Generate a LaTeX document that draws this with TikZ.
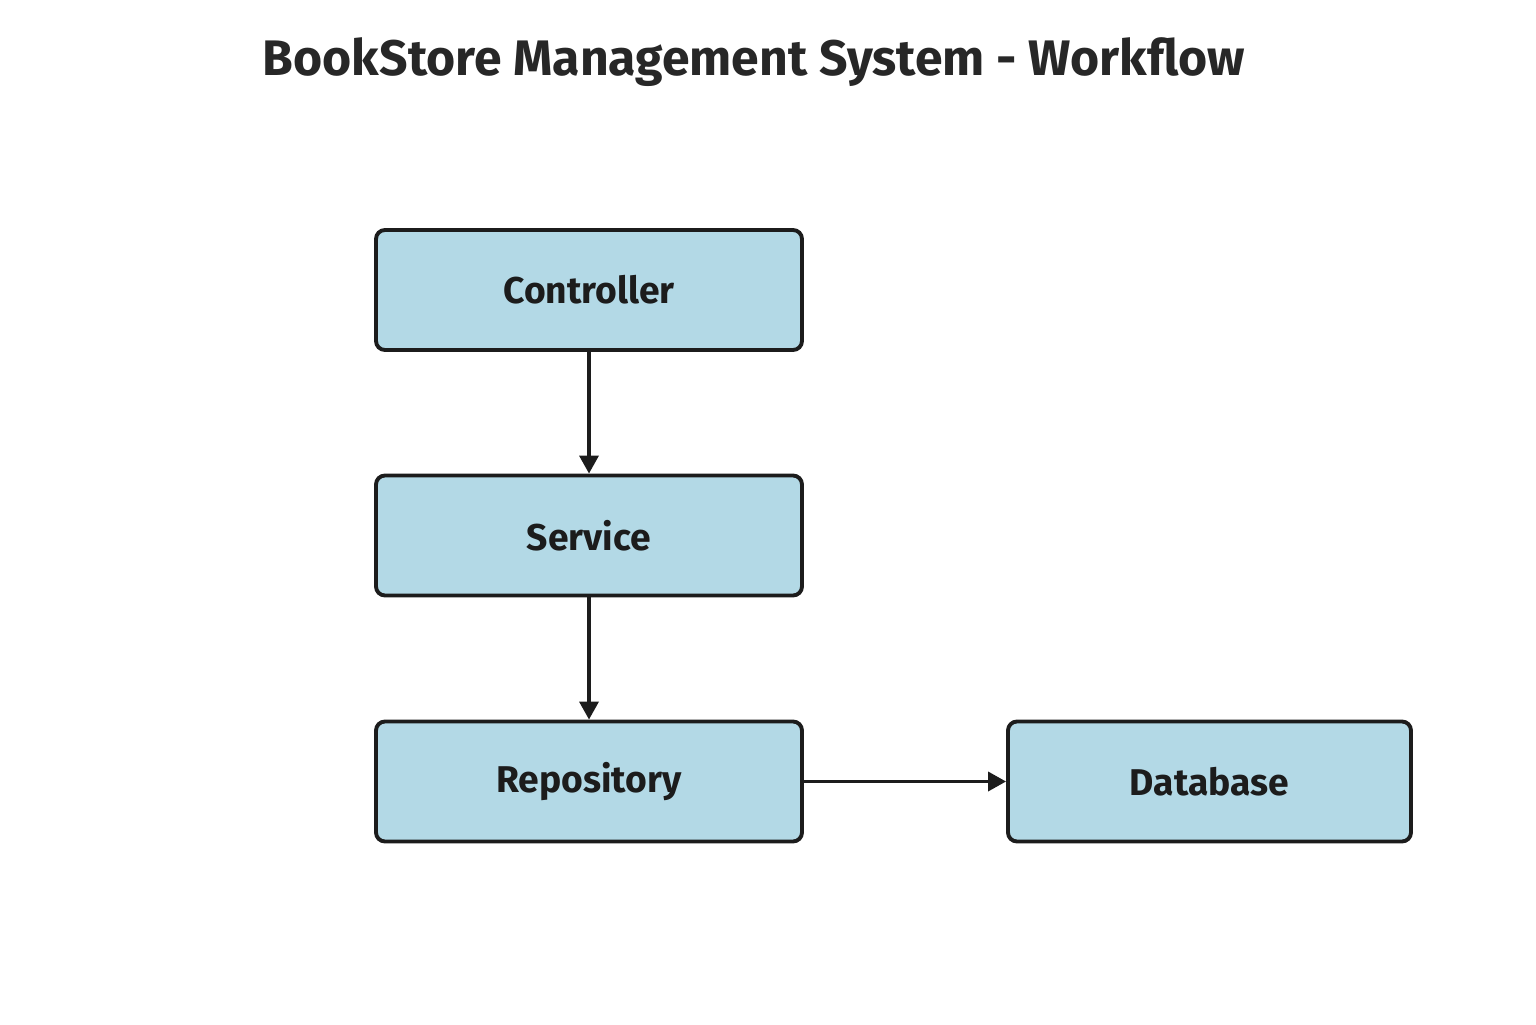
\documentclass[tikz,border=0pt]{standalone}
\usepackage{fontspec}
\setmainfont{Fira Sans}
\usepackage{tikz}
\usetikzlibrary{positioning,arrows.meta}
\definecolor{layerbg}{HTML}{B3D9E6}
\definecolor{inkdark}{HTML}{1C1C1C}

\begin{document}
\begin{tikzpicture}[>={Triangle[length=0.18cm, width=0.19cm]},
  layer/.style={draw=inkdark, line width=1.1pt, fill=layerbg, rounded corners=0.09cm,
    minimum width=4.26cm, minimum height=1.2cm, font=\fontsize{10.6}{13}\selectfont\bfseries, text=inkdark},
  flow/.style={draw=inkdark, line width=1pt, ->}]
  \useasboundingbox (0, 0) rectangle (15.36, 10.24);

  % Title
  \node[font=\fontsize{14.2}{17}\selectfont\bfseries, text=inkdark!95] (title) at (7.54, 9.62) {BookStore Management System - Workflow};

  % Layers
  \node[layer] (controller) at (5.89, 7.34) {Controller};
  \node[layer] (service) at (5.89, 4.885) {Service};
  \node[layer] (repo) at (5.89, 2.425) {Repository};
  \node[layer, minimum width=4.03cm] (db) at (12.095, 2.425) {Database};

  \draw[flow] (controller.south) -- (service.north);
  \draw[flow] (service.south) -- (repo.north);
  \draw[flow] (repo.east) -- (db.west);
\end{tikzpicture}
\end{document}
